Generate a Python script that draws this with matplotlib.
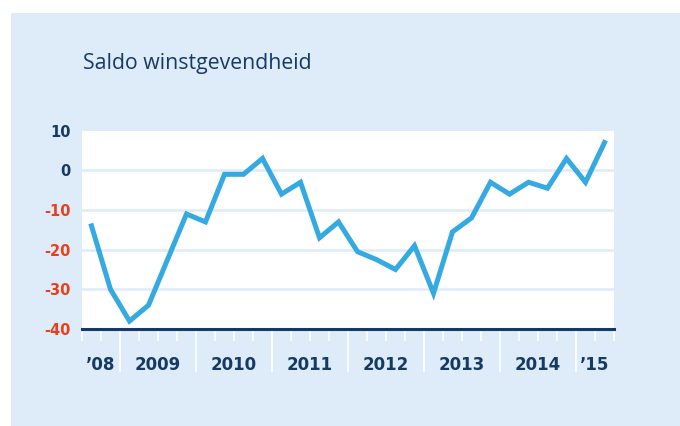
import matplotlib.pyplot as plt
import matplotlib.patches as mpatches

# quarterly values, 2008 Q3 .. 2015 Q2
saldo = [-14, -30, -38, -34, -22.5, -11, -13, -1, -1, 3, -6, -3,
         -17, -13, -20.5, -22.5, -25, -19, -31, -15.5, -12, -3, -6, -3,
         -4.5, 3, -3, 7]
year_labels = ["\u201908", "2009", "2010", "2011", "2012", "2013", "2014", "\u201915"]
year_quarters = [2, 4, 4, 4, 4, 4, 4, 2]
y_ticks = [-40, -30, -20, -10, 0, 10]

navy = "#163a66"
red = "#e8401c"
blue = "#35a9e1"
bg = "#deebf8"

fig = plt.figure(figsize=(6.8, 4.26), dpi=100)
fig.patch.set_facecolor("white")
fig.patches.append(mpatches.Rectangle((11 / 680, 0), 1, 1 - 13 / 426,
                                      transform=fig.transFigure,
                                      facecolor=bg, edgecolor="none", zorder=-10))

ax = fig.add_axes([82 / 680, 97 / 426, 532 / 680, 198.3 / 426])
ax.set_facecolor("white")
for s in ax.spines.values():
    s.set_visible(False)

n = len(saldo)
x = [i + 0.5 for i in range(n)]
ax.set_xlim(0, n)
ax.set_ylim(-40, 10)

for v in [-30, -20, -10, 0]:
    ax.axhline(v, color=bg, lw=1.8, zorder=1)
ax.axhline(-40, color=navy, lw=2.2, zorder=3, clip_on=False)

ax.plot(x, saldo, color=blue, lw=3.6, solid_joinstyle="miter", zorder=4)

# year boundaries (long ticks) and quarters (short ticks)
bounds = [0]
for q in year_quarters:
    bounds.append(bounds[-1] + q)
ax.set_xticks(bounds[1:-1])
ax.set_xticks([i for i in range(n + 1) if i not in bounds[1:-1]], minor=True)
ax.tick_params(axis="x", which="major", length=31, width=1.2, color="white",
               labelbottom=False)
ax.tick_params(axis="x", which="minor", length=8.5, width=1.2, color="white",
               labelbottom=False)

for lab, a, b in zip(year_labels, bounds[:-1], bounds[1:]):
    ax.annotate(lab, xy=((a + b) / 2, -40), xycoords="data",
                xytext=(0, -26), textcoords="offset points",
                ha="center", va="center", fontsize=12, fontweight="bold",
                color=navy, family="DejaVu Sans", annotation_clip=False)

ax.set_yticks(y_ticks)
ax.set_yticklabels([str(v) for v in y_ticks], fontsize=10.5, fontweight="bold",
                   family="DejaVu Sans")
ax.tick_params(axis="y", length=0, pad=8)
for lab, v in zip(ax.get_yticklabels(), y_ticks):
    lab.set_color(navy if v >= 0 else red)

fig.text(83 / 680, 1 - 63 / 426, "Saldo winstgevendheid", fontsize=15.3,
         color=navy, family="Open Sans", ha="left", va="center")

fig.savefig("out.png", dpi=100)
